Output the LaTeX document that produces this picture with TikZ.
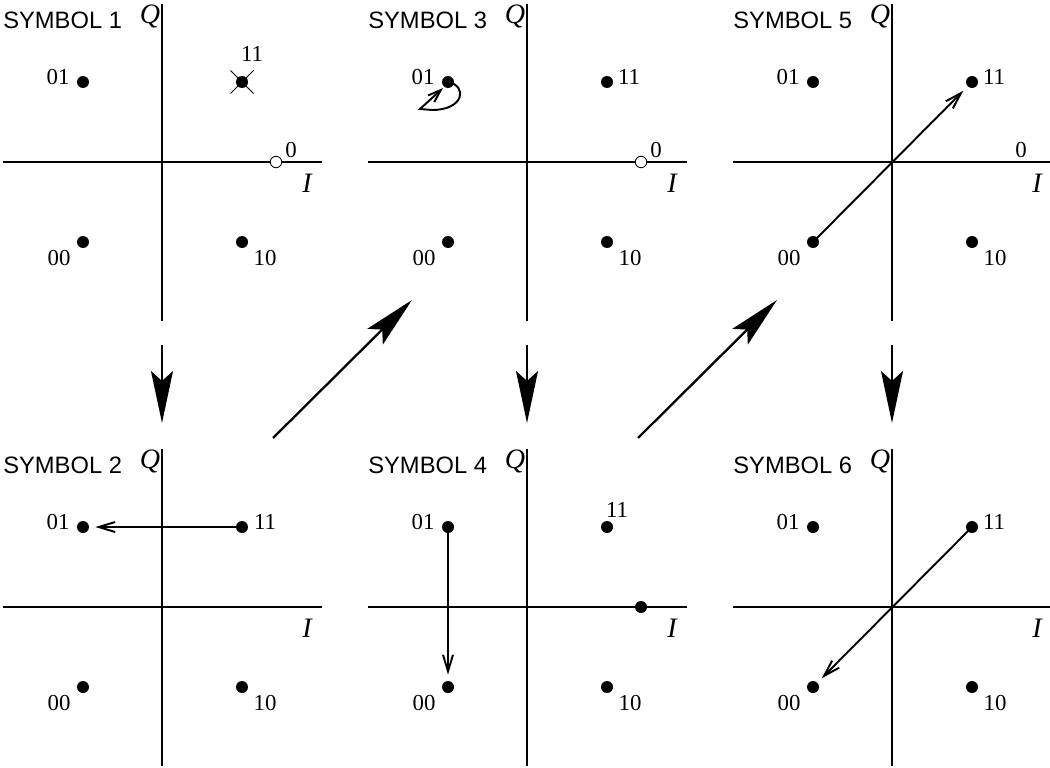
\documentclass[tikz,border=0pt]{standalone}
\usepackage{fontspec}
\setmainfont{Liberation Serif}
\setsansfont{Liberation Sans}
\usetikzlibrary{positioning,arrows.meta}

\tikzset{
  iqaxis/.style={line width=0.6pt},
  dot/.style={circle, fill=black, inner sep=0pt, minimum size=2.4mm},
  hollow/.style={circle, draw=black, fill=white, line width=0.5pt, inner sep=0pt, minimum size=2.3mm},
  bits/.style={font=\fontsize{13}{15}\selectfont, inner sep=0pt},
  axlabel/.style={font=\fontsize{16}{18}\selectfont\itshape, inner sep=0pt},
  title/.style={font=\sffamily\fontsize{13.5}{15}\selectfont, inner sep=0pt},
  move/.style={line width=1.1pt, -{Straight Barb[length=3.3mm, width=2mm]}, shorten >=1.2mm},
  step arrow/.style={line width=1.3pt, -{Stealth[length=10.4mm, width=4.4mm, inset=2mm]}}
}

% one I/Q plane: #1 prefix, #2,#3 origin (px), #4 title
\newcommand{\iqpanel}[4]{%
  \begin{scope}[shift={(#2,#3)}]
    \draw[iqaxis] (-159,0) -- (160,0);
    \draw[iqaxis] (0,-158) -- (0,159);
    \node[title, anchor=west] at (-159,-142) {#4};
    \node[axlabel] at (-12,-146) {Q};
    \node[axlabel] at (145,21) {I};
    % constellation points
    \node[dot] (#1-01) at (-79,-80) {};
    \node[dot] (#1-11) at (80,-80) {};
    \node[dot] (#1-00) at (-79,80) {};
    \node[dot] (#1-10) at (80,80) {};
    \node[bits] at (-104,-85) {01};
    \node[bits] at (-103,96) {00};
    \node[bits] at (103,96) {10};
  \end{scope}}

\begin{document}
\begin{tikzpicture}[x=0.02cm, y=-0.02cm]
  \useasboundingbox (0,0) rectangle (1050,767);

  % Symbol 1
  \iqpanel{s1}{162}{162}{SYMBOL 1}
  \node[bits] at (252,54) {11};
  \draw[line width=0.5pt] (230.5,70.5) -- (253.5,93.5);
  \draw[line width=0.5pt] (230.5,93.5) -- (253.5,70.5);
  \node[hollow] (s1-ref) at (276,162) {};
  \node[bits] at (291,150) {0};

  % Symbol 2
  \iqpanel{s2}{162}{607}{SYMBOL 2}
  \node[bits] at (265,522) {11};
  \draw[move] (s2-11.center) -- (s2-01);

  % Symbol 3
  \iqpanel{s3}{527}{162}{SYMBOL 3}
  \node[bits] at (629,77) {11};
  \node[hollow] (s3-ref) at (641,162) {};
  \node[bits] at (656,150) {0};
  \draw[line width=1.1pt, -{Straight Barb[length=2.6mm, width=1.8mm]}]
    (s3-01.center) .. controls (468,86) and (464,110) .. (432,110)
    -- (420,109) -- (443,88);

  % Symbol 4
  \iqpanel{s4}{527}{607}{SYMBOL 4}
  \node[bits] at (617,510) {11};
  \node[dot] (s4-ref) at (641,607) {};
  \draw[move] (s4-01.center) -- (s4-00);

  % Symbol 5
  \iqpanel{s5}{892}{162}{SYMBOL 5}
  \node[bits] at (994,77) {11};
  \node[bits] at (1021,150) {0};
  \draw[move] (s5-00.center) -- (s5-11);

  % Symbol 6
  \iqpanel{s6}{892}{607}{SYMBOL 6}
  \node[bits] at (994,522) {11};
  \draw[move] (s6-11.center) -- (s6-00);

  % order of the symbols
  \foreach \n/\x in {1/162, 3/527, 5/892} {
    \coordinate (dn\n a) at (\x,345);
    \coordinate (dn\n b) at (\x,423);
    \draw[step arrow] (dn\n a) -- (dn\n b);
  }
  \foreach \n/\x in {2/273, 4/638} {
    \coordinate (up\n a) at (\x,438);
    \coordinate (up\n b) at (\x+139,300);
    \draw[step arrow] (up\n a) -- (up\n b);
  }
\end{tikzpicture}
\end{document}
